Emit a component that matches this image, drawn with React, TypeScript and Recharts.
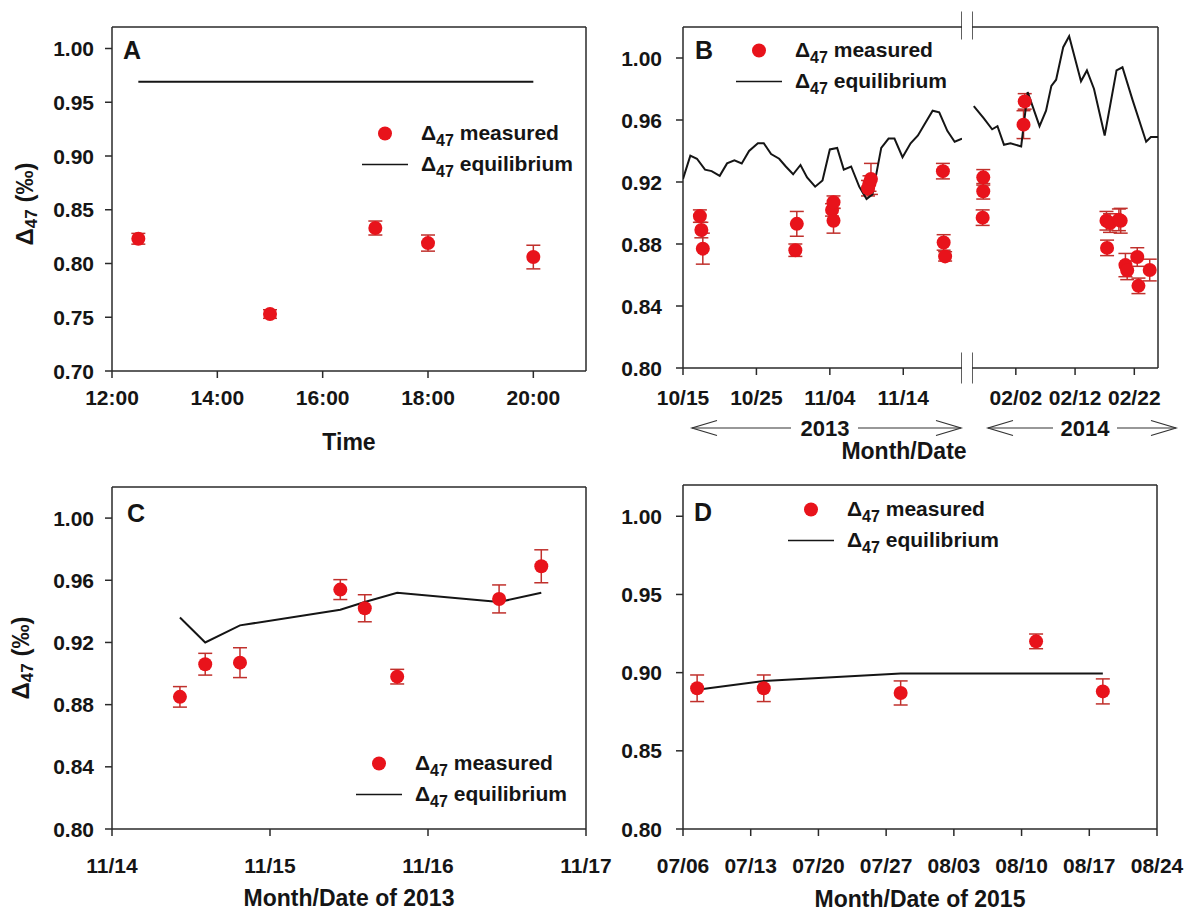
import React from 'react';
import { ComposedChart, Scatter, Line, XAxis, YAxis, ErrorBar, Legend, ReferenceLine } from 'recharts';

const FONT = '"Liberation Sans", Arial, Helvetica, sans-serif';
const RED = '#e8131b';
const ERR_RED = '#c0302c';
const INK = '#151515';
const AXIS = '#2a2a2a';
const DAY = 86400000;
const TICK = 7;

// Panel A: time of day (hours)
const aHours = [12.5, 15.0, 17.0, 18.0, 20.0];
const aMeasured = [0.823, 0.753, 0.833, 0.819, 0.806];
const aErr = [0.005, 0.004, 0.0065, 0.0075, 0.011];
const aEqHours = [12.5, 20.0];
const aEq = [0.969, 0.969];
const aXTicks = [12, 14, 16, 18, 20];
const aYTicks = [0.7, 0.75, 0.8, 0.85, 0.9, 0.95, 1.0];

// Panel B, 2013 part: days since 10/15/2013
const bLeftDays = [2.3, 2.5, 2.7, 15.3, 15.5, 20.3, 20.5, 20.5, 25.2, 25.4, 25.6, 35.4, 35.5, 35.7];
const bLeftMeasured = [0.898, 0.889, 0.877, 0.876, 0.893, 0.902, 0.907, 0.895, 0.916, 0.919, 0.922, 0.927, 0.881, 0.872];
const bLeftErr = [0.004, 0.005, 0.01, 0.004, 0.008, 0.004, 0.004, 0.008, 0.005, 0.005, 0.01, 0.005, 0.005, 0.003];
const bLeftEqDays = [0, 1, 1.9, 3, 3.9, 5, 6, 7, 8, 9, 10.2, 11, 12, 13.1, 14, 15, 16, 16.9, 18, 19, 20, 21, 21.9, 22.9, 24, 25, 25.8, 27, 28, 28.8, 29.9, 31, 32, 33, 34, 34.9, 36, 37, 38];
const bLeftEq = [0.922, 0.937, 0.935, 0.928, 0.927, 0.924, 0.932, 0.934, 0.932, 0.94, 0.945, 0.945, 0.938, 0.935, 0.93, 0.925, 0.931, 0.923, 0.917, 0.921, 0.941, 0.942, 0.928, 0.93, 0.917, 0.909, 0.912, 0.942, 0.948, 0.948, 0.936, 0.945, 0.95, 0.958, 0.966, 0.965, 0.953, 0.946, 0.948];
const bLeftTicks = [0, 10, 20, 30];

// Panel B, 2014 part: days since 02/02/2014
const bRightDays = [-5.5, -5.5, -5.6, 1.3, 1.5, 15.3, 15.4, 15.9, 17.4, 17.7, 18.5, 18.8, 20.5, 20.7, 22.6];
const bRightMeasured = [0.923, 0.914, 0.897, 0.957, 0.972, 0.895, 0.8775, 0.8935, 0.8956, 0.895, 0.8664, 0.863, 0.8716, 0.853, 0.8632];
const bRightErr = [0.005, 0.005, 0.005, 0.009, 0.005, 0.006, 0.005, 0.006, 0.007, 0.008, 0.0075, 0.006, 0.006, 0.005, 0.007];
const bRightEqDays = [-7.1, -5.4, -4.0, -3.1, -2.0, -0.9, 0.9, 2.0, 4.0, 5.1, 6.0, 6.8, 8.0, 9.0, 10.1, 11.0, 12.0, 13.2, 15.0, 17.0, 18.0, 19.7, 22.0, 22.8, 24.0];
const bRightEq = [0.969, 0.961, 0.954, 0.956, 0.944, 0.945, 0.943, 0.978, 0.956, 0.966, 0.982, 0.986, 1.007, 1.014, 0.998, 0.985, 0.992, 0.98, 0.95, 0.992, 0.994, 0.973, 0.946, 0.949, 0.949];
const bRightTicks = [0, 10, 20];
const bYTicks = [0.8, 0.84, 0.88, 0.92, 0.96, 1.0];
const bBreakTop = [1.012, 1.03];
const bBreakBottom = [0.79, 0.81];

// Panel C: days since 11/14/2013
const cDays = [0.43, 0.59, 0.81, 1.445, 1.6, 1.805, 2.45, 2.717];
const cMeasured = [0.885, 0.906, 0.907, 0.954, 0.942, 0.898, 0.948, 0.969];
const cErr = [0.0066, 0.007, 0.0096, 0.0064, 0.0087, 0.0047, 0.009, 0.0106];
const cEq = [0.936, 0.92, 0.931, 0.941, 0.946, 0.952, 0.946, 0.952];
const cXTicks = [0, 1, 2, 3];

// Panel D: days since 07/06/2015
const dDays = [1.46, 8.35, 22.5, 36.5, 43.4];
const dMeasured = [0.89, 0.89, 0.887, 0.92, 0.888];
const dErr = [0.0085, 0.0085, 0.0077, 0.0047, 0.008];
const dEq = [0.889, 0.8946, 0.8995, 0.8995, 0.8995];
const dXTicks = [0, 7, 14, 21, 28, 35, 42, 49];
const dYTicks = [0.8, 0.85, 0.9, 0.95, 1.0];

const legendLabels = ['measured', 'equilibrium'];

type Pt = { x: number; y: number; err?: number };
const zip = (xs: number[], ys: number[], es?: number[]): Pt[] =>
  xs.map((x, i) => ({ x, y: ys[i], err: es ? es[i] : undefined }));

const pad = (n: number) => String(n).padStart(2, '0');
const mmdd = (base: number) => (d: number) => {
  const t = new Date(base + Math.round(d) * DAY);
  return `${pad(t.getUTCMonth() + 1)}/${pad(t.getUTCDate())}`;
};
const hhmm = (h: number) => `${h}:00`;
const fix2 = (v: number) => v.toFixed(2);

// tick mark + label drawn together, so the mark always shows
const xTickOf = (gap: number, fmt: (v: number) => string) => (props: any) => {
  const { x, y, payload } = props;
  return (
    <g>
      <line x1={x} x2={x} y1={y - gap - TICK} y2={y - gap} stroke={AXIS} strokeWidth={1.5} />
      <text x={x} y={y} dy="0.72em" textAnchor="middle" fontSize={21} fontWeight={700} fill={INK} fontFamily={FONT}>
        {fmt(payload.value)}
      </text>
    </g>
  );
};

const yTickOf = (gap: number) => (props: any) => {
  const { x, y, payload } = props;
  return (
    <g>
      <line x1={x + gap} x2={x + gap + TICK} y1={y} y2={y} stroke={AXIS} strokeWidth={1.5} />
      <text x={x} y={y} dy="0.36em" textAnchor="end" fontSize={21} fontWeight={700} fill={INK} fontFamily={FONT}>
        {fix2(payload.value)}
      </text>
    </g>
  );
};

const Dot = (props: any) => <circle cx={props.cx} cy={props.cy} r={7} fill={RED} />;

const LegendBody = () => (
  <div style={{ fontFamily: FONT, fontWeight: 700, fontSize: 21, color: INK, whiteSpace: 'nowrap' }}>
    {legendLabels.map((lab, i) => (
      <div key={lab} style={{ display: 'flex', alignItems: 'center', height: 31 }}>
        <svg width={46} height={31} style={{ display: 'block' }}>
          {i === 0 ? (
            <circle cx={23} cy={15.5} r={7} fill={RED} />
          ) : (
            <line x1={0} x2={46} y1={15.5} y2={15.5} stroke={INK} strokeWidth={1.5} />
          )}
        </svg>
        <span style={{ marginLeft: 13, lineHeight: '31px' }}>
          Δ<span style={{ fontSize: 16, position: 'relative', top: 6 }}>47</span> {lab}
        </span>
      </div>
    ))}
  </div>
);

const yTitle = (dx: number, shift: number) => (props: any) => {
  const vb = props.viewBox;
  const cx = vb.x + dx;
  const cy = vb.y + vb.height / 2 + shift;
  return (
    <text
      x={cx}
      y={cy}
      transform={`rotate(-90 ${cx} ${cy})`}
      textAnchor="middle"
      dominantBaseline="central"
      fontFamily={FONT}
      fontWeight={700}
      fontSize={24}
      fill={INK}
    >
      Δ<tspan dy={7} fontSize={17}>47</tspan>
      <tspan dy={-7}> (‰)</tspan>
    </text>
  );
};

interface PanelProps {
  left: number;
  top: number;
  width: number;
  height: number;
  margin: { top: number; right: number; left: number; bottom: number };
  yWidth: number;
  xHeight: number;
  xDomain: [number, number];
  yDomain: [number, number];
  xTicks: number[];
  yTicks: number[];
  xFmt: (v: number) => string;
  xGap: number;
  yGap: number;
  measured: Pt[];
  eq: Pt[];
  hideY?: boolean;
  rightBorder?: boolean;
  legendAt?: { left: number; top: number };
  xTitle?: string;
  xTitleOffset?: number;
  yTitleAt?: [number, number];
  breakX?: number;
}

const frame = { stroke: AXIS, strokeWidth: 1.5, ifOverflow: 'visible' as const };

const Panel = (p: PanelProps) => (
  <div style={{ position: 'absolute', left: p.left, top: p.top }}>
    <ComposedChart width={p.width} height={p.height} margin={p.margin}>
      <XAxis
        type="number"
        dataKey="x"
        domain={p.xDomain}
        ticks={p.xTicks}
        interval={0}
        height={p.xHeight}
        axisLine={false}
        tickLine={false}
        tickSize={TICK}
        tickMargin={p.xGap}
        tick={xTickOf(p.xGap, p.xFmt)}
        allowDataOverflow
        label={
          p.xTitle
            ? { value: p.xTitle, position: 'insideBottom', offset: p.xTitleOffset, fontSize: 23, fontWeight: 700, fill: INK, fontFamily: FONT }
            : undefined
        }
      />
      <YAxis
        type="number"
        dataKey="y"
        domain={p.yDomain}
        ticks={p.yTicks}
        interval={0}
        width={p.yWidth}
        hide={p.hideY}
        axisLine={false}
        tickLine={false}
        tickSize={TICK}
        tickMargin={p.yGap}
        tick={yTickOf(p.yGap)}
        allowDataOverflow
        label={p.yTitleAt ? yTitle(p.yTitleAt[0], p.yTitleAt[1]) : undefined}
      />
      {/* plot frame */}
      <ReferenceLine y={p.yDomain[0]} {...frame} />
      <ReferenceLine y={p.yDomain[1]} {...frame} />
      {!p.hideY && <ReferenceLine x={p.xDomain[0]} {...frame} />}
      {p.rightBorder && <ReferenceLine x={p.xDomain[1]} {...frame} />}
      <Scatter data={p.measured} dataKey="y" shape={Dot} isAnimationActive={false}>
        <ErrorBar dataKey="err" direction="y" width={7} stroke={ERR_RED} strokeWidth={1.5} />
      </Scatter>
      <Line data={p.eq} dataKey="y" type="linear" stroke={INK} strokeWidth={2} dot={false} activeDot={false} isAnimationActive={false} />
      {p.breakX !== undefined && (
        <ReferenceLine segment={[{ x: p.breakX, y: bBreakTop[0] }, { x: p.breakX, y: bBreakTop[1] }]} {...frame} />
      )}
      {p.breakX !== undefined && (
        <ReferenceLine segment={[{ x: p.breakX, y: bBreakBottom[0] }, { x: p.breakX, y: bBreakBottom[1] }]} {...frame} />
      )}
      {p.legendAt && (
        <Legend
          layout="horizontal"
          verticalAlign="middle"
          align="center"
          content={LegendBody}
          wrapperStyle={{ left: p.legendAt.left, top: p.legendAt.top, width: 270, height: 62 }}
        />
      )}
    </ComposedChart>
  </div>
);

const Arrow = ({ x1, x2, y, tip }: { x1: number; x2: number; y: number; tip: number }) => {
  const dir = tip === x1 ? 1 : -1;
  return (
    <g stroke="#333" strokeWidth={1.2} fill="none">
      <line x1={x1} x2={x2} y1={y} y2={y} />
      <polyline points={`${tip + dir * 25},${y - 7.5} ${tip},${y} ${tip + dir * 25},${y + 7.5}`} />
    </g>
  );
};

const txt = { fontFamily: FONT, fontWeight: 700, fill: INK } as const;

export default function App() {
  return (
    <div style={{ position: 'absolute', left: 0, top: 0, width: 1187, height: 911, background: '#fff', overflow: 'hidden' }}>
      <Panel
        left={0}
        top={0}
        width={600}
        height={460}
        margin={{ top: 27, right: 14, left: 0, bottom: 0 }}
        yWidth={112}
        xHeight={89}
        xDomain={[12, 21]}
        yDomain={[0.7, 1.02]}
        xTicks={aXTicks}
        yTicks={aYTicks}
        xFmt={hhmm}
        xGap={12}
        yGap={11}
        measured={zip(aHours, aMeasured, aErr)}
        eq={zip(aEqHours, aEq)}
        rightBorder
        legendAt={{ left: 362, top: 117.5 }}
        xTitle="Time"
        xTitleOffset={10}
        yTitleAt={[24, 5]}
      />
      <Panel
        left={590}
        top={0}
        width={372}
        height={460}
        margin={{ top: 27, right: 0, left: 0, bottom: 0 }}
        yWidth={93}
        xHeight={92}
        xDomain={[0, 38]}
        yDomain={[0.8, 1.02]}
        xTicks={bLeftTicks}
        yTicks={bYTicks}
        xFmt={mmdd(Date.UTC(2013, 9, 15))}
        xGap={15}
        yGap={14}
        measured={zip(bLeftDays, bLeftMeasured, bLeftErr)}
        eq={zip(bLeftEqDays, bLeftEq)}
        legendAt={{ left: 146, top: 34.5 }}
        breakX={38}
      />
      <Panel
        left={972}
        top={0}
        width={215}
        height={460}
        margin={{ top: 27, right: 29, left: 0, bottom: 0 }}
        yWidth={0}
        xHeight={92}
        xDomain={[-7.4, 24]}
        yDomain={[0.8, 1.02]}
        xTicks={bRightTicks}
        yTicks={bYTicks}
        xFmt={mmdd(Date.UTC(2014, 1, 2))}
        xGap={15}
        yGap={14}
        measured={zip(bRightDays, bRightMeasured, bRightErr)}
        eq={zip(bRightEqDays, bRightEq)}
        hideY
        rightBorder
        breakX={-7.4}
      />
      <Panel
        left={0}
        top={460}
        width={620}
        height={451}
        margin={{ top: 27, right: 34, left: 0, bottom: 0 }}
        yWidth={112}
        xHeight={82}
        xDomain={[0, 3]}
        yDomain={[0.8, 1.02]}
        xTicks={cXTicks}
        yTicks={bYTicks}
        xFmt={mmdd(Date.UTC(2013, 10, 14))}
        xGap={22}
        yGap={11}
        measured={zip(cDays, cMeasured, cErr)}
        eq={zip(cDays, cEq)}
        rightBorder
        legendAt={{ left: 356, top: 287.5 }}
        xTitle="Month/Date of 2013"
        xTitleOffset={5}
        yTitleAt={[20, 0]}
      />
      <Panel
        left={590}
        top={460}
        width={597}
        height={451}
        margin={{ top: 25, right: 30, left: 0, bottom: 0 }}
        yWidth={93}
        xHeight={82}
        xDomain={[0, 49]}
        yDomain={[0.8, 1.02]}
        xTicks={dXTicks}
        yTicks={dYTicks}
        xFmt={mmdd(Date.UTC(2015, 6, 6))}
        xGap={22}
        yGap={14}
        measured={zip(dDays, dMeasured, dErr)}
        eq={zip(dDays, dEq)}
        rightBorder
        legendAt={{ left: 198, top: 33.5 }}
        xTitle="Month/Date of 2015"
        xTitleOffset={4}
      />
      <svg width={1187} height={911} style={{ position: 'absolute', left: 0, top: 0, pointerEvents: 'none' }}>
        <text x={132} y={50} textAnchor="middle" dominantBaseline="central" fontSize={25} {...txt}>A</text>
        <text x={704} y={50} textAnchor="middle" dominantBaseline="central" fontSize={25} {...txt}>B</text>
        <text x={136} y={513} textAnchor="middle" dominantBaseline="central" fontSize={25} {...txt}>C</text>
        <text x={703} y={512} textAnchor="middle" dominantBaseline="central" fontSize={25} {...txt}>D</text>
        <Arrow x1={692} x2={791} y={428} tip={692} />
        <text x={825} y={428} textAnchor="middle" dominantBaseline="central" fontSize={22} {...txt}>2013</text>
        <Arrow x1={858} x2={961} y={428} tip={961} />
        <Arrow x1={988} x2={1053} y={428} tip={988} />
        <text x={1085} y={428} textAnchor="middle" dominantBaseline="central" fontSize={22} {...txt}>2014</text>
        <Arrow x1={1117} x2={1176} y={428} tip={1176} />
        <text x={904} y={451} textAnchor="middle" dominantBaseline="central" fontSize={23} {...txt}>Month/Date</text>
      </svg>
    </div>
  );
}
